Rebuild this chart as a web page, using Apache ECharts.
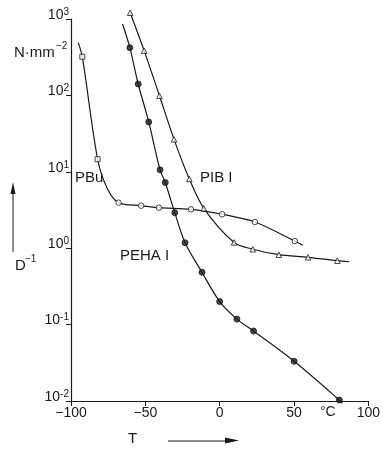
<!DOCTYPE html>
<html>
<head>
<meta charset="utf-8">
<script src="https://cdn.jsdelivr.net/npm/echarts@6/dist/echarts.min.js"></script>
<style>html,body{margin:0;padding:0;background:#fff}#c{width:383px;height:449px}</style>
</head>
<body>
<div id="c"></div>
<script>
// Tick labels
const xTicks = [-100, -50, 0, 50, 100];
const yTicks = [0.01, 0.1, 1, 10, 100, 1000];

// PBu curve (T, D^-1) incl. unmarked curve ends
const pbuCurveT = [-95.1, -92.4, -82.1, -75.5, -68.0, -52.8, -40.9, -19.3, 1.7, 23.7, 50.5, 55.9];
const pbuCurveD = [490, 321, 14.6, 6.0, 3.94, 3.60, 3.39, 3.23, 2.78, 2.20, 1.24, 1.09];
const pbuSquareT = [-92.4, -82.1];
const pbuSquareD = [321, 14.6];
const pbuCircleT = [-68.0, -52.8, -40.9, -19.3, 1.7, 23.7, 50.5];
const pbuCircleD = [3.94, 3.60, 3.39, 3.23, 2.78, 2.20, 1.24];

// PIB I curve
const pibCurveT = [-60.2, -50.8, -40.5, -30.7, -20.4, -10.7, 9.7, 22.3, 39.8, 59.5, 79.2, 87.2];
const pibCurveD = [1208, 385, 99, 26.6, 8.05, 3.33, 1.19, 0.97, 0.822, 0.76, 0.686, 0.665];
const pibMarkT = [-60.2, -50.8, -40.5, -30.7, -20.4, -10.7, 9.7, 22.3, 39.8, 59.5, 79.2];
const pibMarkD = [1208, 385, 99, 26.6, 8.05, 3.33, 1.19, 0.97, 0.822, 0.76, 0.686];

// PEHA I curve
const pehaCurveT = [-65.3, -60.4, -54.8, -47.7, -40.1, -36.6, -30.2, -23.3, -11.9, 0, 11.6, 22.8, 50.1, 80.5, 82.5];
const pehaCurveD = [861, 421, 141, 44.9, 10.6, 7.24, 2.92, 1.18, 0.484, 0.20, 0.118, 0.0824, 0.0331, 0.0103, 0.0093];
const pehaMarkT = [-60.4, -54.8, -47.7, -40.1, -36.6, -30.2, -23.3, -11.9, 0, 11.6, 22.8, 50.1, 80.5];
const pehaMarkD = [421, 141, 44.9, 10.6, 7.24, 2.92, 1.18, 0.484, 0.20, 0.118, 0.0824, 0.0331, 0.0103];

const zip = (a, b) => a.map((v, i) => [v, b[i]]);
const FONT = 'Liberation Sans, Arial, sans-serif';
const INK = '#1a1a1a';

const chart = echarts.init(document.getElementById('c'));

const lineS = (name, t, d) => ({
  name, type: 'line', data: zip(t, d), smooth: 0.3,
  symbol: 'none', clip: false, lineStyle: { color: INK, width: 1.2 }, z: 2
});
const markS = (name, t, d, symbol, size, filled) => ({
  name, type: 'scatter', data: zip(t, d), symbol, symbolSize: size, clip: false,
  itemStyle: { color: filled ? INK : '#fff', borderColor: INK, borderWidth: 1 }, z: 3
});

chart.setOption({
  animation: false,
  backgroundColor: '#fff',
  grid: { left: 71, right: 14, top: 19, bottom: 48 },
  xAxis: {
    type: 'value', min: -100, max: 100, interval: 50,
    axisLine: { show: true, onZero: false, lineStyle: { color: INK, width: 1.2 } },
    axisTick: { show: true, inside: false, length: 5, lineStyle: { color: INK } },
    splitLine: { show: false },
    axisLabel: {
      color: INK, fontFamily: FONT, fontSize: 14, margin: 5,
      formatter: v => xTicks.includes(v) ? (v < 0 ? '\u2212' + Math.abs(v) : String(v)) : ''
    }
  },
  yAxis: {
    type: 'log', logBase: 10, min: 0.01, max: 1000,
    axisLine: { show: true, onZero: false, lineStyle: { color: INK, width: 1.2 } },
    axisTick: { show: true, inside: false, length: 5, lineStyle: { color: INK } },
    splitLine: { show: false },
    axisLabel: {
      color: INK, fontFamily: FONT, margin: 2,
      formatter: v => {
        const e = Math.round(Math.log10(v));
        return yTicks.some(t => Math.abs(Math.log10(t) - e) < 1e-6) ? '{b|10}{s|' + e + '}' : '';
      },
      rich: {
        b: { fontSize: 14, fontFamily: FONT, color: INK, padding: [0, 0, 8, 0] },
        s: { fontSize: 10, fontFamily: FONT, color: INK, padding: [0, 0, 14, 0] }
      }
    }
  },
  graphic: [
    { type: 'text', left: 14, top: 45, style: { text: 'N\u00B7mm', font: '15px ' + FONT, fill: INK } },
    { type: 'text', left: 56, top: 41, style: { text: '\u22122', font: '10px ' + FONT, fill: INK } },
    { type: 'text', left: 15, top: 258, style: { text: 'D', font: '15px ' + FONT, fill: INK } },
    { type: 'text', left: 25, top: 254, style: { text: '\u22121', font: '10px ' + FONT, fill: INK } },
    { type: 'line', shape: { x1: 13, y1: 252, x2: 13, y2: 188 }, style: { stroke: INK, lineWidth: 1 } },
    { type: 'polygon', shape: { points: [[13, 182], [10.5, 194], [15.5, 194]] }, style: { fill: INK } },
    { type: 'text', left: 128, top: 431, style: { text: 'T', font: '15px ' + FONT, fill: INK } },
    { type: 'line', shape: { x1: 168, y1: 441, x2: 230, y2: 441 }, style: { stroke: INK, lineWidth: 1 } },
    { type: 'polygon', shape: { points: [[239, 440.5], [225, 437.5], [225, 443.5]] }, style: { fill: INK } },
    { type: 'text', left: 320, top: 405, style: { text: '\u00B0C', font: '14px ' + FONT, fill: INK } },
    { type: 'text', left: 75, top: 170, style: { text: 'PBu', font: '15px ' + FONT, fill: INK } },
    { type: 'text', left: 200, top: 170, style: { text: 'PIB I', font: '15px ' + FONT, fill: INK } },
    { type: 'text', left: 120, top: 248, style: { text: 'PEHA I', font: '15px ' + FONT, fill: INK } }
  ],
  series: [
    lineS('PBu', pbuCurveT, pbuCurveD),
    lineS('PIB I', pibCurveT, pibCurveD),
    lineS('PEHA I', pehaCurveT, pehaCurveD),
    markS('PBu squares', pbuSquareT, pbuSquareD, 'rect', 5, false),
    markS('PBu circles', pbuCircleT, pbuCircleD, 'circle', 5.5, false),
    markS('PIB I marks', pibMarkT, pibMarkD, 'triangle', 5.5, false),
    markS('PEHA I marks', pehaMarkT, pehaMarkD, 'circle', 6, true)
  ]
});
</script>
</body>
</html>
